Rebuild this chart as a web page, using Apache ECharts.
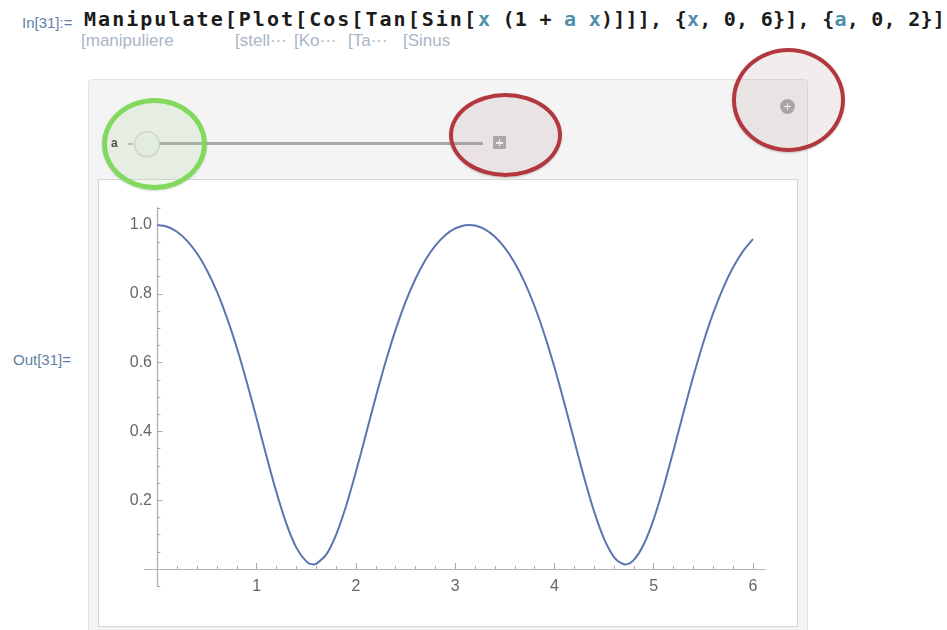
<!DOCTYPE html>
<html>
<head>
<meta charset="utf-8">
<script src="https://cdn.jsdelivr.net/npm/echarts@6/dist/echarts.min.js"></script>
<style>
  html, body { margin:0; padding:0; background:#fff; }
  body { width:947px; height:630px; position:relative; overflow:hidden; font-family:"Liberation Sans", Arial, sans-serif; }
  .abs { position:absolute; }
  #inlbl { left:22px; top:14px; font-size:15px; color:#5f7fa6; white-space:nowrap; }
  #outlbl { left:13px; top:351px; font-size:15px; color:#5f7fa6; white-space:nowrap; }
  #code { left:84px; top:7px; font-family:"DejaVu Sans Mono", monospace; font-weight:bold; font-size:20px; color:#1b1b1b; white-space:nowrap; line-height:24px; }
  #code .v { color:#4f8fac; }
  .sub { top:32px; font-size:17px; color:#aab6c5; white-space:nowrap; line-height:18px; }
  #panel { left:88px; top:79px; width:718px; height:600px; background:#f4f4f4; border:1px solid #e3e3e3; border-radius:4px; }
  #plotbox { left:98px; top:179px; width:698px; height:446px; background:#fff; border:1px solid #d5d5d5; }
  #alabel { left:111px; top:136px; font-size:12px; font-weight:bold; color:#333; }
  #tickl { left:128px; top:143px; width:5px; height:2px; background:#bdbdbd; }
  #track { left:158px; top:142px; width:325px; height:3px; background:#a9a9a9; }
  #thumb { left:134px; top:131px; width:26px; height:26px; border-radius:50%; background:#f0f3f0; border:1px solid #c9c9c9; box-sizing:border-box; box-shadow:0 1px 1px rgba(0,0,0,0.08); }
  #plusbtn { left:493px; top:136px; width:13px; height:13px; background:#adadad; border-radius:1px; }
  #plusbtn:before { content:""; position:absolute; left:3px; top:6px; width:7px; height:1.6px; background:#fff; }
  #plusbtn:after { content:""; position:absolute; left:5.7px; top:3px; width:1.6px; height:7px; background:#fff; }
  #plusc { left:780px; top:99px; width:15px; height:15px; border-radius:50%; background:#a9a9a9; }
  #plusc:before { content:""; position:absolute; left:4px; top:6.7px; width:7px; height:1.8px; background:#fff; }
  #plusc:after { content:""; position:absolute; left:6.6px; top:4px; width:1.8px; height:7px; background:#fff; }
  .ell { box-sizing:border-box; border-radius:50%; }
  #green { left:102px; top:98px; width:105px; height:92px; border:5px solid #82d95e; background:rgba(175,210,160,0.2); box-shadow:0 1px 2px rgba(0,0,0,0.15); }
  #red1 { left:449px; top:93px; width:113px; height:84px; border:4px solid #b3373f; background:rgba(185,140,140,0.17); box-shadow:0 1px 2px rgba(0,0,0,0.2); }
  #red2 { left:732px; top:48px; width:113px; height:104px; border:4px solid #b3373f; background:rgba(185,140,140,0.17); box-shadow:0 1px 2px rgba(0,0,0,0.2); }
  #chart { left:0; top:0; width:947px; height:630px; }
</style>
</head>
<body>
<div id="inlbl" class="abs">In[31]:=</div>
<div id="code" class="abs"><span id="c1">Manipulate[Plot[Cos[Tan[Sin[</span><span id="c2"><span class="v">x</span> (1 + <span class="v">a</span> <span class="v">x</span>)]]], {<span class="v">x</span>, 0, 6}], {<span class="v">a</span>, 0, 2}]</span></div>
<div class="abs sub" style="left:81px">[manipuliere</div>
<div class="abs sub" style="left:235px">[stell···</div>
<div class="abs sub" style="left:294px">[Ko···</div>
<div class="abs sub" style="left:348px">[Ta···</div>
<div class="abs sub" style="left:403px">[Sinus</div>
<div id="panel" class="abs"></div>
<div id="plotbox" class="abs"></div>
<div id="outlbl" class="abs">Out[31]=</div>
<div id="chart" class="abs"></div>
<div id="alabel" class="abs">a</div>
<div id="tickl" class="abs"></div>
<div id="track" class="abs"></div>
<div id="thumb" class="abs"></div>
<div id="plusbtn" class="abs"></div>
<div id="plusc" class="abs"></div>
<div id="green" class="abs ell"></div>
<div id="red1" class="abs ell"></div>
<div id="red2" class="abs ell"></div>
<script>
// ---- data ----
const xs = [0.0,0.1,0.2,0.3,0.4,0.5,0.6,0.7,0.8,0.9,1.0,1.1,1.2,1.3,1.4,1.5,1.5708,1.6,1.7,1.8,1.9,2.0,
  2.1,2.2,2.3,2.4,2.5,2.6,2.7,2.8,2.9,3.0,3.1,3.1416,3.2,3.3,3.4,3.5,3.6,3.7,3.8,3.9,4.0,
  4.1,4.2,4.3,4.4,4.5,4.6,4.7,4.7124,4.8,4.9,5.0,5.1,5.2,5.3,5.4,5.5,5.6,5.7,5.8,5.9,6.0];
const ys = [1.0000,0.9950,0.9798,0.9540,0.9170,0.8679,0.8060,0.7309,0.6430,0.5438,0.4367,0.3270,0.2223,0.1312,0.0621,0.0221,0.0134,0.0150,0.0416,0.0993,0.1823,0.2824,
  0.3910,0.4999,0.6030,0.6959,0.7764,0.8437,0.8981,0.9400,0.9704,0.9899,0.9991,1.0000,0.9983,0.9874,0.9661,0.9338,0.8898,0.8333,0.7638,0.6811,0.5863,
  0.4819,0.3725,0.2647,0.1669,0.0877,0.0348,0.0137,0.0134,0.0266,0.0719,0.1452,0.2393,0.3453,0.4550,0.5611,0.6586,0.7445,0.8173,0.8770,0.9240,0.9591];
const xMajorTicks = [1,2,3,4,5,6];
const xMinorTicks = [0.2,0.4,0.6,0.8,1.2,1.4,1.6,1.8,2.2,2.4,2.6,2.8,3.2,3.4,3.6,3.8,4.2,4.4,4.6,4.8,5.2,5.4,5.6,5.8];
const yMajorTicks = [0.2,0.4,0.6,0.8,1.0];
const yMinorTicks = [-0.05,0.05,0.1,0.15,0.25,0.3,0.35,0.45,0.5,0.55,0.65,0.7,0.75,0.85,0.9,0.95,1.05];
const xRange = [-0.13, 6.12];
const yRange = [-0.05, 1.05];

// fit code line pieces to the reference widths
function fit(id, target) {
  const el = document.getElementById(id);
  const n = el.textContent.length;
  const w = el.getBoundingClientRect().width;
  el.style.letterSpacing = ((target - w) / n) + 'px';
}
fit('c1', 394);
fit('c2', 467);

const axisColor = '#b3b3b3';
const labelColor = '#666666';
const font = '"Liberation Sans", Arial, sans-serif';

function xAxisDef(ticks, len, withLabels) {
  return {
    type: 'value', min: xRange[0], max: xRange[1], position: 'bottom',
    axisLine: { show: true, onZero: true, lineStyle: { color: axisColor, width: 1.2 } },
    axisTick: { show: true, inside: true, length: len, customValues: ticks, lineStyle: { color: '#a8a8a8', width: 1 } },
    axisLabel: withLabels ? { show: true, customValues: ticks, margin: -8, color: labelColor, fontSize: 16, fontFamily: font, formatter: v => String(v) } : { show: false },
    splitLine: { show: false }
  };
}
function yAxisDef(ticks, len, withLabels) {
  return {
    type: 'value', min: yRange[0], max: yRange[1], position: 'left',
    axisLine: { show: true, onZero: true, lineStyle: { color: axisColor, width: 1.2 } },
    axisTick: { show: true, inside: true, length: len, customValues: ticks, lineStyle: { color: '#a8a8a8', width: 1 } },
    axisLabel: withLabels ? { show: true, customValues: ticks, margin: -7.5, color: labelColor, fontSize: 16, fontFamily: font, formatter: v => v.toFixed(1) } : { show: false },
    splitLine: { show: false }
  };
}

const chart = echarts.init(document.getElementById('chart'), null, { renderer: 'canvas' });
chart.setOption({
  animation: false,
  backgroundColor: 'transparent',
  grid: { left: 144.5, top: 207.8, width: 620.4, height: 378.4, containLabel: false },
  xAxis: [ xAxisDef(xMajorTicks, 6, true), xAxisDef(xMinorTicks, 3, false) ],
  yAxis: [ yAxisDef(yMajorTicks, 5, true), yAxisDef(yMinorTicks, 3, false) ],
  series: [{
    type: 'line', xAxisIndex: 0, yAxisIndex: 0,
    data: xs.map((x, i) => [x, ys[i]]),
    showSymbol: false, smooth: 0.3,
    lineStyle: { color: '#5b75b0', width: 2 }
  }]
});
</script>
</body>
</html>
